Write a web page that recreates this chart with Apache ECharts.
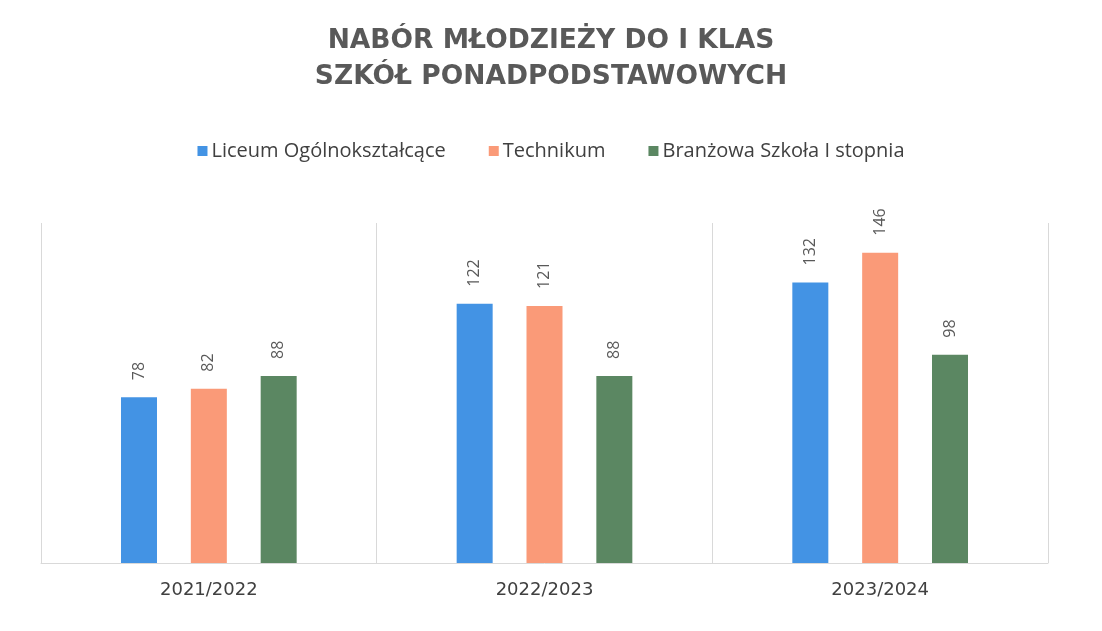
<!DOCTYPE html>
<html>
<head>
<meta charset="utf-8">
<script src="https://cdn.jsdelivr.net/npm/echarts@6/dist/echarts.min.js"></script>
<style>html,body{margin:0;padding:0;background:#fff;}#c{width:1102px;height:631px;}</style>
</head>
<body>
<div id="c"></div>
<script>
const titleText = 'NABÓR MŁODZIEŻY DO I KLAS\nSZKÓŁ PONADPODSTAWOWYCH';
const categories = ['2021/2022', '2022/2023', '2023/2024'];
const seriesNames = ['Liceum Ogólnokształcące', 'Technikum', 'Branżowa Szkoła I stopnia'];
const liceum = [78, 122, 132];
const technikum = [82, 121, 146];
const branzowa = [88, 88, 98];
const colors = ['#4393e4', '#fa9a78', '#5b8762'];

const chart = echarts.init(document.getElementById('c'), null, {renderer: 'canvas'});
const dataSets = [liceum, technikum, branzowa];
chart.setOption({
  backgroundColor: '#ffffff',
  animation: false,
  color: colors,
  title: {
    text: titleText,
    left: 'center',
    top: 18,
    textStyle: {
      fontFamily: 'DejaVu Sans',
      fontWeight: 'bold',
      fontSize: 26.5,
      lineHeight: 36,
      color: '#595959'
    }
  },
  legend: {
    top: 136,
    left: 'center',
    itemWidth: 10,
    itemHeight: 10,
    itemGap: 43,
    icon: 'rect',
    textStyle: {fontFamily: 'Open Sans', fontSize: 20, color: '#404040', padding: [0, 0, 0, -1]},
    data: seriesNames
  },
  grid: {left: 41, right: 54, top: 223, bottom: 68, containLabel: false},
  xAxis: {
    type: 'category',
    data: categories,
    axisLine: {show: true, lineStyle: {color: '#d9d9d9', width: 1}},
    axisTick: {show: false},
    splitLine: {show: true, interval: 0, lineStyle: {color: '#d9d9d9', width: 1}},
    axisLabel: {fontFamily: 'DejaVu Sans', fontSize: 18, color: '#404040', margin: 18}
  },
  yAxis: {
    type: 'value',
    min: 0,
    max: 160,
    interval: 20,
    show: false,
    splitLine: {show: false}
  },
  series: seriesNames.map((n, i) => ({
    name: n,
    type: 'bar',
    data: dataSets[i],
    barWidth: 36,
    barGap: '94%',
    itemStyle: {color: colors[i]},
    label: {
      show: true,
      position: 'top',
      rotate: 90,
      align: 'left',
      verticalAlign: 'middle',
      distance: 17,
      fontFamily: 'Open Sans',
      fontSize: 16,
      color: '#595959'
    }
  }))
});
</script>
</body>
</html>
